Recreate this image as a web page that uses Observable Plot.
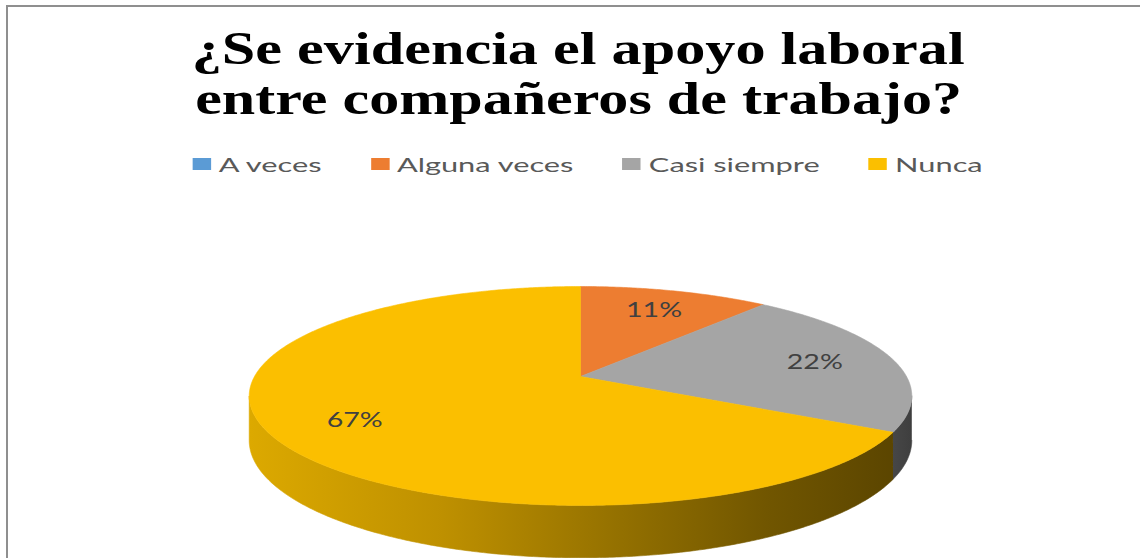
<!DOCTYPE html>
<html>
<head>
<meta charset="utf-8">
<script src="https://cdn.jsdelivr.net/npm/d3@7"></script>
<script src="https://cdn.jsdelivr.net/npm/@observablehq/plot@0.6"></script>
<style>
  html, body { margin: 0; padding: 0; background: #fff; }
  #chart { position: relative; width: 1140px; height: 558px; overflow: hidden; background: #fff; }
  #frame { position: absolute; left: 6px; top: 5px; width: 1200px; height: 600px;
           border-top: 2px solid #8f8f8f; border-left: 2px solid #8f8f8f; box-sizing: border-box; }
  .tline { position: absolute; white-space: nowrap; font-family: "Liberation Serif", "Times New Roman", serif;
           font-weight: bold; font-size: 46px; line-height: 46px; color: #000; transform-origin: center center; }
  #legend { position: absolute; top: 154px; display: flex; align-items: center; white-space: nowrap;
            font-family: Lato, "Liberation Sans", Arial, sans-serif; font-size: 20px; line-height: 20px; color: #595959;
            transform-origin: center center; }
  .item { display: flex; align-items: center; margin-right: 32px; }
  .item:last-child { margin-right: 0; }
  .sw { width: 12px; height: 12px; margin-right: 5px; flex: none; }
  #plot { position: absolute; left: 0; top: 185px; }
</style>
</head>
<body>
<div id="chart">
  <div id="frame"></div>
  <div id="title"></div>
  <div id="legend"></div>
  <div id="plot"></div>
</div>
<script>
// ---- data ----
const titleLines = ["¿Se evidencia el apoyo laboral", "entre compañeros de trabajo?"];
const categories = ["A veces", "Alguna veces", "Casi siempre", "Nunca"];
const percents = [0, 11, 22, 67];
const valueLabels = ["0%", "11%", "22%", "67%"];

// ---- styles ----
const palette = ["#5B9BD5", "#ED7D31", "#A5A5A5", "#FBBF00"];
const wallFill = ["#3d6f9e", "#a9531a", "url(#wallGray)", "url(#wallGold)"];

// ---- title ----
const titleEl = document.getElementById("title");
const titleTops = [25.5, 75.5];
const titleWidths = [773, 767];
const titleCenter = 578.5;
titleLines.forEach((t, i) => {
  const d = document.createElement("div");
  d.className = "tline";
  d.textContent = t;
  d.style.top = titleTops[i] + "px";
  titleEl.appendChild(d);
  const w = d.getBoundingClientRect().width;
  d.style.left = (titleCenter - w / 2) + "px";
  d.style.transform = `scaleX(${titleWidths[i] / w})`;
});

// ---- legend ----
const legendEl = document.getElementById("legend");
categories.forEach((c, i) => {
  const it = document.createElement("div");
  it.className = "item";
  const sw = document.createElement("div");
  sw.className = "sw";
  sw.style.background = palette[i];
  const tx = document.createElement("span");
  tx.textContent = c;
  it.appendChild(sw); it.appendChild(tx);
  legendEl.appendChild(it);
});
{
  const w = legendEl.getBoundingClientRect().width;
  const target = 790, center = 588;
  legendEl.style.left = (center - w / 2) + "px";
  legendEl.style.transform = `scaleX(${target / w})`;
}

// ---- pie geometry (3D, perspective) ----
const K = 0.178;            // perspective factor
const DEPTH = 43 / 106;     // wall height in y units
const LABEL_R = 0.75;
const TAU = 2 * Math.PI;
const STEP = Math.PI / 360;

function proj(phi, r, drop) {
  const X = r * Math.sin(phi), Y = -r * Math.cos(phi), w = 1 - K * Y;
  return {x: X / w, y: (Y + drop) / w};
}
function arcPts(a0, a1, drop) {
  const n = Math.max(1, Math.ceil((a1 - a0) / STEP));
  return d3.range(n + 1).map(k => proj(a0 + (a1 - a0) * k / n, 1, drop));
}

const rows = categories.map((c, i) => ({category: c, value: percents[i], label: valueLabels[i], i}));
const arcs = d3.pie().sort(null).value(d => d.value).startAngle(0).endAngle(TAU)(rows);

const PHI_R = Math.acos(-K), PHI_L = TAU - PHI_R;

const marks = [];
// walls
arcs.forEach(a => {
  const s = Math.max(a.startAngle, PHI_R), e = Math.min(a.endAngle, PHI_L);
  if (e > s) {
    const pts = [...arcPts(s, e, 0), ...arcPts(s, e, DEPTH).reverse()];
    marks.push(Plot.line(pts, {x: "x", y: "y", fill: wallFill[a.data.i], stroke: wallFill[a.data.i],
                               strokeWidth: 0.6, curve: "linear"}));
  }
});
// top faces
arcs.forEach(a => {
  if (a.endAngle - a.startAngle <= 0) return;
  const pts = [{x: 0, y: 0}, ...arcPts(a.startAngle, a.endAngle, 0), {x: 0, y: 0}];
  marks.push(Plot.line(pts, {x: "x", y: "y", fill: palette[a.data.i], stroke: palette[a.data.i],
                             strokeWidth: 0.6, curve: "linear"}));
});
// labels
const labelData = arcs.filter(a => a.data.value > 0).map(a => {
  const p = proj((a.startAngle + a.endAngle) / 2, LABEL_R, 0);
  return {x: p.x, y: p.y, label: a.data.label};
});
marks.push(Plot.text(labelData, {x: "x", y: "y", text: "label", fontSize: 22, fill: "#404040",
                                 fontFamily: "Lato, Liberation Sans, Arial, sans-serif", textAnchor: "middle"}));

const plot = Plot.plot({
  width: 1140,
  height: 373,
  margin: 0,
  x: {domain: [-1, 1], range: [580 - 326, 580 + 326], axis: null},
  y: {domain: [-1, 1], range: [191 - 106, 191 + 106], axis: null},
  marks
});
document.getElementById("plot").appendChild(plot);

// gradients for the side walls
const defs = d3.select(plot).insert("defs", ":first-child");
const gGold = defs.append("linearGradient").attr("id", "wallGold")
  .attr("gradientUnits", "userSpaceOnUse").attr("x1", 249).attr("x2", 895).attr("y1", 0).attr("y2", 0);
[[0, "#DCA900"], [0.3, "#BE9000"], [0.55, "#977300"], [0.8, "#715600"], [1, "#5B4500"]]
  .forEach(([o, c]) => gGold.append("stop").attr("offset", o).attr("stop-color", c));
const gGray = defs.append("linearGradient").attr("id", "wallGray")
  .attr("gradientUnits", "userSpaceOnUse").attr("x1", 880).attr("x2", 912).attr("y1", 0).attr("y2", 0);
[[0, "#4C4C4C"], [1, "#3E3E3E"]]
  .forEach(([o, c]) => gGray.append("stop").attr("offset", o).attr("stop-color", c));

// widen label glyphs like the original
d3.select(plot).selectAll("text").each(function () {
  const len = this.getComputedTextLength();
  if (len > 0) {
    this.setAttribute("textLength", (len * 1.3).toFixed(1));
    this.setAttribute("lengthAdjust", "spacingAndGlyphs");
  }
});
</script>
</body>
</html>
